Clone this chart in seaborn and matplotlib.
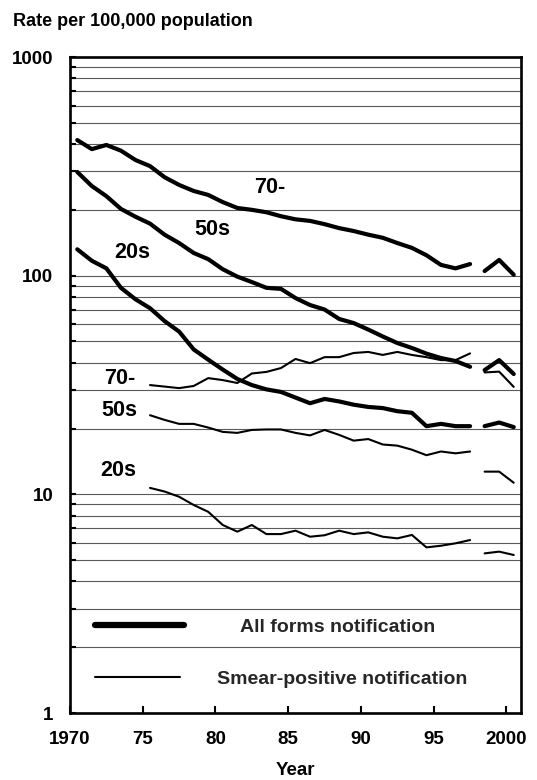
import numpy as np
import pandas as pd
import matplotlib
matplotlib.use("Agg")
import matplotlib.pyplot as plt
import seaborn as sns
from matplotlib.lines import Line2D
from matplotlib.ticker import LogLocator, NullFormatter

# ---------------- data ----------------
years_main = list(range(1970, 1998))
years_smear = list(range(1975, 1998))
years_new = [1998, 1999, 2000]

all_70 = [417, 379, 396, 373, 338, 317, 282, 260, 244, 234, 217, 204, 200, 195,
          187, 181, 178, 172, 165, 160, 154, 149, 141, 134, 124, 112, 108, 113]
all_70_new = [105, 118, 101]
all_50 = [298, 257, 231, 202, 186, 173, 154, 141, 127, 119, 107, 99, 93.5, 88,
          87, 79, 73.4, 70, 63.4, 60.7, 56.7, 52.7, 49.2, 46.7, 44, 42, 40.7, 38.3]
all_50_new = [37.0, 41.1, 35.5]
all_20 = [132, 117, 108, 88, 78, 71, 62, 55.5, 46, 41.3, 37.2, 33.7, 31.6, 30.2,
          29.4, 27.7, 26.1, 27.3, 26.6, 25.7, 25.1, 24.8, 24.0, 23.6, 20.5, 21.0, 20.5, 20.5]
all_20_new = [20.5, 21.3, 20.3]

sm_70 = [31.6, 31.1, 30.6, 31.3, 34.0, 33.3, 32.3, 35.7, 36.3, 37.8, 41.6, 39.8,
         42.4, 42.4, 44.3, 44.8, 43.4, 44.8, 43.4, 42.4, 41.1, 41.1, 44.1]
sm_70_new = [36.1, 36.4, 31.0]
sm_50 = [23.0, 21.9, 21.0, 21.0, 20.2, 19.3, 19.1, 19.7, 19.8, 19.8, 19.1, 18.6,
         19.7, 18.7, 17.6, 17.9, 16.9, 16.7, 16.0, 15.1, 15.7, 15.4, 15.7]
sm_50_new = [12.7, 12.7, 11.3]
sm_20 = [10.7, 10.3, 9.75, 8.94, 8.32, 7.24, 6.75, 7.24, 6.58, 6.58, 6.82, 6.40,
         6.50, 6.82, 6.58, 6.70, 6.40, 6.29, 6.52, 5.72, 5.82, 5.97, 6.18]
sm_20_new = [5.37, 5.47, 5.28]

x_ticks = [1970, 1975, 1980, 1985, 1990, 1995, 2000]
x_tick_labels = ["1970", "75", "80", "85", "90", "95", "2000"]
y_ticks = [1, 10, 100, 1000]
y_tick_labels = ["1", "10", "100", "1000"]

all_labels = ["70-", "50s", "20s"]
smear_labels = ["70-", "50s", "20s"]
legend_labels = ["All forms notification", "Smear-positive notification"]

# ---------------- style ----------------
sns.set_theme(style="white")
plt.rcParams["font.family"] = ["Liberation Sans", "DejaVu Sans"]
plt.rcParams["font.weight"] = "bold"

fig = plt.figure(figsize=(5.37, 7.8), dpi=100)
ax = fig.add_axes([70 / 537, 67 / 780, 451 / 537, 656 / 780])

THICK = 3.0
THIN = 1.5
OFFSET = 0.5  # points drawn at the centre of each year interval

segments = [
    (years_main, all_70, THICK), (years_new, all_70_new, THICK),
    (years_main, all_50, THICK), (years_new, all_50_new, THICK),
    (years_main, all_20, THICK), (years_new, all_20_new, THICK),
    (years_smear, sm_70, THIN), (years_new, sm_70_new, THIN),
    (years_smear, sm_50, THIN), (years_new, sm_50_new, THIN),
    (years_smear, sm_20, THIN), (years_new, sm_20_new, THIN),
]
for yrs, vals, lw in segments:
    df = pd.DataFrame({"year": np.array(yrs) + OFFSET, "rate": vals})
    sns.lineplot(data=df, x="year", y="rate", color="black", linewidth=lw,
                 ax=ax, estimator=None, sort=False, legend=False,
                 solid_capstyle="round", solid_joinstyle="round")

ax.set_yscale("log")
ax.set_ylim(1, 1000)
ax.set_xlim(1970, 2001)

ax.set_xticks(x_ticks, labels=x_tick_labels)
ax.set_yticks(y_ticks, labels=y_tick_labels)
ax.yaxis.set_minor_locator(LogLocator(base=10, subs=np.arange(2, 10)))
ax.yaxis.set_minor_formatter(NullFormatter())

ax.yaxis.grid(True, which="both", color="#5a5a5a", linewidth=0.8)
ax.xaxis.grid(False)
ax.set_axisbelow(True)

for s in ax.spines.values():
    s.set_color("black")
    s.set_linewidth(1.9)

ax.tick_params(axis="x", which="major", direction="in", length=5, width=1.5,
               pad=13, labelsize=13.5, colors="black", bottom=True)
ax.tick_params(axis="y", which="both", direction="in", length=4, width=1.5,
               pad=12, labelsize=13.5, colors="black", left=True)
for lab in ax.get_xticklabels() + ax.get_yticklabels():
    lab.set_fontweight("bold")

ax.set_xlabel("Year", fontsize=13.5, fontweight="bold", labelpad=10, color="black")
ax.set_ylabel("")

fig.text(13 / 537, 1 - 21 / 780, "Rate per 100,000 population", fontsize=13,
         fontweight="bold", ha="left", va="center", color="black")

# series labels
lab_kw = dict(fontsize=15.5, fontweight="bold", ha="center", va="center", color="black")
ax.text(1983.7, 254, all_labels[0], **lab_kw)
ax.text(1979.8, 162, all_labels[1], **lab_kw)
ax.text(1974.3, 127, all_labels[2], **lab_kw)
ax.text(1973.4, 34, smear_labels[0], **lab_kw)
ax.text(1973.4, 24.3, smear_labels[1], **lab_kw)
ax.text(1973.3, 12.9, smear_labels[2], **lab_kw)

# legend (two separate entries)
h1 = Line2D([], [], color="black", linewidth=4.5, solid_capstyle="round")
h2 = Line2D([], [], color="black", linewidth=1.5)
leg1 = ax.legend([h1], [legend_labels[0]], loc="center left",
                 bbox_to_anchor=(25 / 451, 86 / 656), frameon=False,
                 handlelength=4.6, handletextpad=2.85, borderpad=0, borderaxespad=0,
                 prop={"size": 14, "weight": "bold"})
ax.add_artist(leg1)
ax.legend([h2], [legend_labels[1]], loc="center left",
          bbox_to_anchor=(25 / 451, 34 / 656), frameon=False,
          handlelength=4.35, handletextpad=1.95, borderpad=0, borderaxespad=0,
          prop={"size": 14, "weight": "bold"})

fig.savefig("out.png", dpi=100)
